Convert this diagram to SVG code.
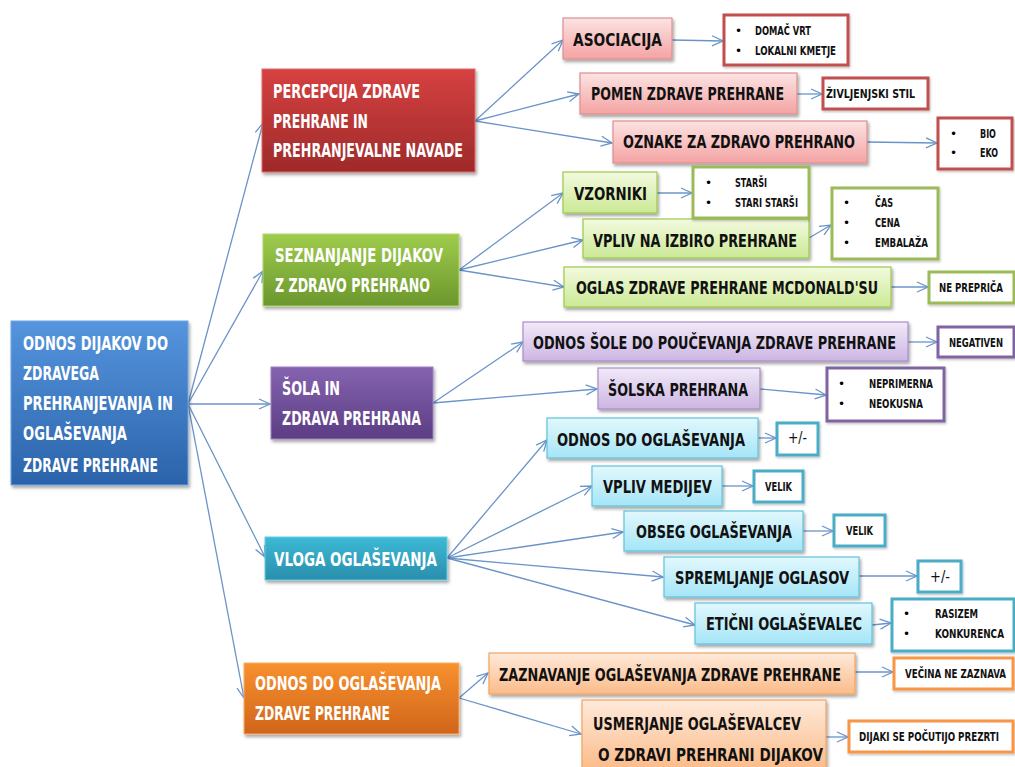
<svg xmlns="http://www.w3.org/2000/svg" width="1015" height="767" viewBox="0 0 1015 767">
<style>
  .l1 { font-family: "DejaVu Sans Condensed", "DejaVu Sans", sans-serif; font-size: 19px; font-weight: bold; fill: #ffffff; }
  .l2 { font-family: "DejaVu Sans Condensed", "DejaVu Sans", sans-serif; font-size: 18px; font-weight: bold; fill: #111111; }
  .l3 { font-family: "DejaVu Sans Condensed", "DejaVu Sans", sans-serif; font-size: 12px; font-weight: bold; fill: #111111; }
  .pm { font-family: "DejaVu Sans Condensed", "DejaVu Sans", sans-serif; font-size: 15px; fill: #111111; }
  .bul { font-family: "DejaVu Sans", sans-serif; font-size: 12px; fill: #000000; }
  .con line { stroke: #6a94c9; stroke-width: 1.3; fill: none; marker-end: url(#arr); }
  .b1 { stroke-width: 1; filter: url(#sh); }
  .b2 { stroke-width: 1.2; filter: url(#sh); }
  .b3 { fill: #ffffff; stroke-width: 3; filter: url(#sh2); }
</style>
<defs>
  <marker id="arr" markerUnits="userSpaceOnUse" markerWidth="14" markerHeight="12" refX="12" refY="6" orient="auto">
    <path d="M1,1 L12,6 L1,11" fill="none" stroke="#6a94c9" stroke-width="1.3"/>
  </marker>
  <filter id="sh" x="-10%" y="-10%" width="125%" height="135%">
    <feDropShadow dx="1.5" dy="2.5" stdDeviation="1.8" flood-color="#000" flood-opacity="0.35"/>
  </filter>
  <filter id="sh2" x="-10%" y="-10%" width="125%" height="135%">
    <feDropShadow dx="1" dy="1.5" stdDeviation="1.2" flood-color="#000" flood-opacity="0.25"/>
  </filter>
  <linearGradient id="gBlue" x1="0" y1="0" x2="0" y2="1"><stop offset="0" stop-color="#5595de"/><stop offset="1" stop-color="#2b63aa"/></linearGradient>
  <linearGradient id="gRed" x1="0" y1="0" x2="0" y2="1"><stop offset="0" stop-color="#d64141"/><stop offset="1" stop-color="#9e2a2a"/></linearGradient>
  <linearGradient id="gGreen" x1="0" y1="0" x2="0" y2="1"><stop offset="0" stop-color="#9fcc4d"/><stop offset="1" stop-color="#6b972c"/></linearGradient>
  <linearGradient id="gPurple" x1="0" y1="0" x2="0" y2="1"><stop offset="0" stop-color="#8563b0"/><stop offset="1" stop-color="#5c3d84"/></linearGradient>
  <linearGradient id="gTeal" x1="0" y1="0" x2="0" y2="1"><stop offset="0" stop-color="#3cbad6"/><stop offset="1" stop-color="#2a8eac"/></linearGradient>
  <linearGradient id="gOrange" x1="0" y1="0" x2="0" y2="1"><stop offset="0" stop-color="#f8912f"/><stop offset="1" stop-color="#d0651a"/></linearGradient>
  <linearGradient id="lRed" x1="0" y1="0" x2="0" y2="1"><stop offset="0" stop-color="#fce3e3"/><stop offset="1" stop-color="#f4a3a3"/></linearGradient>
  <linearGradient id="lGreen" x1="0" y1="0" x2="0" y2="1"><stop offset="0" stop-color="#f3fadf"/><stop offset="1" stop-color="#cbe995"/></linearGradient>
  <linearGradient id="lPurple" x1="0" y1="0" x2="0" y2="1"><stop offset="0" stop-color="#f1eaf8"/><stop offset="1" stop-color="#ccb5e3"/></linearGradient>
  <linearGradient id="lTeal" x1="0" y1="0" x2="0" y2="1"><stop offset="0" stop-color="#e2f8fd"/><stop offset="1" stop-color="#a5e5f7"/></linearGradient>
  <linearGradient id="lOrange" x1="0" y1="0" x2="0" y2="1"><stop offset="0" stop-color="#feeadb"/><stop offset="1" stop-color="#fbbb89"/></linearGradient>
</defs>
<rect width="1015" height="767" fill="#ffffff"/>

<g id="connectors" class="con">
  <line x1="188" y1="404" x2="263" y2="123"/>
  <line x1="188" y1="404" x2="263" y2="271"/>
  <line x1="188" y1="404" x2="270" y2="404"/>
  <line x1="188" y1="404" x2="265" y2="557"/>
  <line x1="188" y1="404" x2="244" y2="698"/>
  <line x1="475" y1="121" x2="563" y2="40"/>
  <line x1="475" y1="121" x2="579" y2="94"/>
  <line x1="475" y1="121" x2="612" y2="143"/>
  <line x1="672" y1="40" x2="723" y2="41"/>
  <line x1="797" y1="94" x2="822" y2="94"/>
  <line x1="867" y1="142" x2="937" y2="143"/>
  <line x1="459" y1="270" x2="563" y2="193"/>
  <line x1="459" y1="270" x2="583" y2="240"/>
  <line x1="459" y1="270" x2="564" y2="287"/>
  <line x1="657" y1="193" x2="692" y2="193"/>
  <line x1="809" y1="238" x2="831" y2="225"/>
  <line x1="891" y1="287" x2="928" y2="287"/>
  <line x1="433" y1="403" x2="523" y2="342"/>
  <line x1="433" y1="403" x2="597" y2="389"/>
  <line x1="908" y1="342" x2="937" y2="342"/>
  <line x1="760" y1="389" x2="826" y2="395"/>
  <line x1="447" y1="558" x2="547" y2="440"/>
  <line x1="447" y1="558" x2="592" y2="486"/>
  <line x1="447" y1="558" x2="623" y2="532"/>
  <line x1="447" y1="558" x2="663" y2="577"/>
  <line x1="447" y1="558" x2="695" y2="625"/>
  <line x1="758" y1="438" x2="776" y2="438"/>
  <line x1="722" y1="486" x2="753" y2="486"/>
  <line x1="803" y1="531" x2="833" y2="531"/>
  <line x1="859" y1="576" x2="917" y2="576"/>
  <line x1="872" y1="625" x2="891" y2="623"/>
  <line x1="459" y1="698" x2="488" y2="673"/>
  <line x1="459" y1="698" x2="581" y2="734"/>
  <line x1="855" y1="672" x2="893" y2="672"/>
  <line x1="826" y1="737" x2="848" y2="737"/>
</g>

<!-- Root -->
<g id="root">
  <rect class="b1" x="11" y="321" width="177" height="164" fill="url(#gBlue)" stroke="#6fa5e3"/>
  <text class="l1" x="23" y="350" textLength="145" lengthAdjust="spacingAndGlyphs">ODNOS DIJAKOV DO</text>
  <text class="l1" x="23" y="380" textLength="76" lengthAdjust="spacingAndGlyphs">ZDRAVEGA</text>
  <text class="l1" x="23" y="410" textLength="150" lengthAdjust="spacingAndGlyphs">PREHRANJEVANJA IN</text>
  <text class="l1" x="23" y="440" textLength="104" lengthAdjust="spacingAndGlyphs">OGLAŠEVANJA</text>
  <text class="l1" x="23" y="472" textLength="135" lengthAdjust="spacingAndGlyphs">ZDRAVE PREHRANE</text>
</g>

<!-- Level 1 -->
<g id="n-percepcija">
  <rect class="b1" x="262" y="69" width="213" height="103" fill="url(#gRed)" stroke="#e06a6a"/>
  <text class="l1" x="273" y="98" textLength="147" lengthAdjust="spacingAndGlyphs">PERCEPCIJA ZDRAVE</text>
  <text class="l1" x="273" y="128" textLength="95" lengthAdjust="spacingAndGlyphs">PREHRANE IN</text>
  <text class="l1" x="273" y="157" textLength="190" lengthAdjust="spacingAndGlyphs">PREHRANJEVALNE NAVADE</text>
</g>
<g id="n-seznanjanje">
  <rect class="b1" x="263" y="234" width="196" height="72" fill="url(#gGreen)" stroke="#b1d86e"/>
  <text class="l1" x="275" y="262" textLength="168" lengthAdjust="spacingAndGlyphs">SEZNANJANJE DIJAKOV</text>
  <text class="l1" x="275" y="292" textLength="155" lengthAdjust="spacingAndGlyphs">Z ZDRAVO PREHRANO</text>
</g>
<g id="n-sola">
  <rect class="b1" x="271" y="367" width="162" height="72" fill="url(#gPurple)" stroke="#9d80c4"/>
  <text class="l1" x="282" y="395" textLength="58" lengthAdjust="spacingAndGlyphs">ŠOLA IN</text>
  <text class="l1" x="282" y="425" textLength="139" lengthAdjust="spacingAndGlyphs">ZDRAVA PREHRANA</text>
</g>
<g id="n-vloga">
  <rect class="b1" x="265" y="537" width="182" height="43" fill="url(#gTeal)" stroke="#68cde3"/>
  <text class="l1" x="274" y="566" textLength="163" lengthAdjust="spacingAndGlyphs">VLOGA OGLAŠEVANJA</text>
</g>
<g id="n-odnos-ogl">
  <rect class="b1" x="244" y="663" width="215" height="71" fill="url(#gOrange)" stroke="#fbae6a"/>
  <text class="l1" x="255" y="690" textLength="186" lengthAdjust="spacingAndGlyphs">ODNOS DO OGLAŠEVANJA</text>
  <text class="l1" x="255" y="720" textLength="135" lengthAdjust="spacingAndGlyphs">ZDRAVE PREHRANE</text>
</g>

<!-- Red tier -->
<g id="n-asociacija">
  <rect class="b2" x="563" y="18" width="109" height="41" fill="url(#lRed)" stroke="#dc8f8f"/>
  <text class="l2" transform="translate(573,46) scale(0.75,1)" textLength="118.7" lengthAdjust="spacingAndGlyphs">ASOCIACIJA</text>
</g>
<g id="n-pomen">
  <rect class="b2" x="580" y="73" width="217" height="41" fill="url(#lRed)" stroke="#dc8f8f"/>
  <text class="l2" transform="translate(591,100) scale(0.75,1)" textLength="257.3" lengthAdjust="spacingAndGlyphs">POMEN ZDRAVE PREHRANE</text>
</g>
<g id="n-oznake">
  <rect class="b2" x="613" y="121" width="254" height="42" fill="url(#lRed)" stroke="#dc8f8f"/>
  <text class="l2" transform="translate(623,148) scale(0.75,1)" textLength="309.3" lengthAdjust="spacingAndGlyphs">OZNAKE ZA ZDRAVO PREHRANO</text>
</g>
<g id="n-domac">
  <rect class="b3" x="724" y="15" width="124" height="50" stroke="#c0504d"/>
  <text class="bul" x="735" y="35">•</text>
  <text class="bul" x="735" y="55">•</text>
  <text class="l3" transform="translate(755,35) scale(0.75,1)" textLength="74.7" lengthAdjust="spacingAndGlyphs">DOMAČ VRT</text>
  <text class="l3" transform="translate(755,55) scale(0.75,1)" textLength="108" lengthAdjust="spacingAndGlyphs">LOKALNI KMETJE</text>
</g>
<g id="n-zivljenjski">
  <rect class="b3" x="823" y="78" width="105" height="31" stroke="#c0504d"/>
  <text class="l3" transform="translate(826,98) scale(0.75,1)" textLength="118.7" lengthAdjust="spacingAndGlyphs">ŽIVLJENJSKI STIL</text>
</g>
<g id="n-bio">
  <rect class="b3" x="938" y="118" width="74" height="51" stroke="#c0504d"/>
  <text class="bul" x="950" y="138">•</text>
  <text class="bul" x="950" y="157">•</text>
  <text class="l3" transform="translate(980,138) scale(0.75,1)" textLength="21.3" lengthAdjust="spacingAndGlyphs">BIO</text>
  <text class="l3" transform="translate(980,157) scale(0.75,1)" textLength="24" lengthAdjust="spacingAndGlyphs">EKO</text>
</g>

<!-- Green tier -->
<g id="n-vzorniki">
  <rect class="b2" x="563" y="172" width="94" height="41" fill="url(#lGreen)" stroke="#9bc94b"/>
  <text class="l2" transform="translate(574,200) scale(0.75,1)" textLength="97.3" lengthAdjust="spacingAndGlyphs">VZORNIKI</text>
</g>
<g id="n-vpliv-izbiro">
  <rect class="b2" x="583" y="219" width="226" height="39" fill="url(#lGreen)" stroke="#9bc94b"/>
  <text class="l2" transform="translate(593,247) scale(0.75,1)" textLength="272" lengthAdjust="spacingAndGlyphs">VPLIV NA IZBIRO PREHRANE</text>
</g>
<g id="n-oglas">
  <rect class="b2" x="564" y="267" width="327" height="40" fill="url(#lGreen)" stroke="#9bc94b"/>
  <text class="l2" transform="translate(576,294) scale(0.75,1)" textLength="402.7" lengthAdjust="spacingAndGlyphs">OGLAS ZDRAVE PREHRANE MCDONALD'SU</text>
</g>
<g id="n-starsi">
  <rect class="b3" x="693" y="167" width="116" height="51" stroke="#9bbb59"/>
  <text class="bul" x="705" y="187">•</text>
  <text class="bul" x="705" y="207">•</text>
  <text class="l3" transform="translate(735,187) scale(0.75,1)" textLength="42.7" lengthAdjust="spacingAndGlyphs">STARŠI</text>
  <text class="l3" transform="translate(735,207) scale(0.75,1)" textLength="84" lengthAdjust="spacingAndGlyphs">STARI STARŠI</text>
</g>
<g id="n-cas">
  <rect class="b3" x="832" y="188" width="106" height="71" stroke="#9bbb59"/>
  <text class="bul" x="843" y="207">•</text>
  <text class="bul" x="843" y="227">•</text>
  <text class="bul" x="843" y="247">•</text>
  <text class="l3" transform="translate(875,207) scale(0.75,1)" textLength="24" lengthAdjust="spacingAndGlyphs">ČAS</text>
  <text class="l3" transform="translate(875,227) scale(0.75,1)" textLength="33.3" lengthAdjust="spacingAndGlyphs">CENA</text>
  <text class="l3" transform="translate(875,247) scale(0.75,1)" textLength="70.7" lengthAdjust="spacingAndGlyphs">EMBALAŽA</text>
</g>
<g id="n-ne-preprica">
  <rect class="b3" x="929" y="272" width="85" height="31" stroke="#9bbb59"/>
  <text class="l3" transform="translate(939,292) scale(0.75,1)" textLength="85.3" lengthAdjust="spacingAndGlyphs">NE PREPRIČA</text>
</g>

<!-- Purple tier -->
<g id="n-odnos-sole">
  <rect class="b2" x="523" y="322" width="385" height="39" fill="url(#lPurple)" stroke="#a98cc9"/>
  <text class="l2" transform="translate(533,349) scale(0.75,1)" textLength="484" lengthAdjust="spacingAndGlyphs">ODNOS ŠOLE DO POUČEVANJA ZDRAVE PREHRANE</text>
</g>
<g id="n-solska">
  <rect class="b2" x="598" y="368" width="162" height="41" fill="url(#lPurple)" stroke="#a98cc9"/>
  <text class="l2" transform="translate(608,396) scale(0.75,1)" textLength="186.7" lengthAdjust="spacingAndGlyphs">ŠOLSKA PREHRANA</text>
</g>
<g id="n-negativen">
  <rect class="b3" x="938" y="327" width="76" height="30" stroke="#8064a2"/>
  <text class="l3" transform="translate(949,347) scale(0.75,1)" textLength="72" lengthAdjust="spacingAndGlyphs">NEGATIVEN</text>
</g>
<g id="n-neprimerna">
  <rect class="b3" x="827" y="368" width="117" height="53" stroke="#8064a2"/>
  <text class="bul" x="838" y="388">•</text>
  <text class="bul" x="838" y="408">•</text>
  <text class="l3" transform="translate(869,388) scale(0.75,1)" textLength="85.3" lengthAdjust="spacingAndGlyphs">NEPRIMERNA</text>
  <text class="l3" transform="translate(869,408) scale(0.75,1)" textLength="72" lengthAdjust="spacingAndGlyphs">NEOKUSNA</text>
</g>

<!-- Teal tier -->
<g id="n-odnos-do-ogl">
  <rect class="b2" x="547" y="418" width="211" height="40" fill="url(#lTeal)" stroke="#5ec4dc"/>
  <text class="l2" transform="translate(557,446) scale(0.75,1)" textLength="250.7" lengthAdjust="spacingAndGlyphs">ODNOS DO OGLAŠEVANJA</text>
</g>
<g id="n-vpliv-medijev">
  <rect class="b2" x="592" y="466" width="130" height="40" fill="url(#lTeal)" stroke="#5ec4dc"/>
  <text class="l2" transform="translate(603,493) scale(0.75,1)" textLength="145.3" lengthAdjust="spacingAndGlyphs">VPLIV MEDIJEV</text>
</g>
<g id="n-obseg">
  <rect class="b2" x="624" y="511" width="179" height="40" fill="url(#lTeal)" stroke="#5ec4dc"/>
  <text class="l2" transform="translate(636,538) scale(0.75,1)" textLength="208" lengthAdjust="spacingAndGlyphs">OBSEG OGLAŠEVANJA</text>
</g>
<g id="n-spremljanje">
  <rect class="b2" x="664" y="557" width="195" height="40" fill="url(#lTeal)" stroke="#5ec4dc"/>
  <text class="l2" transform="translate(675,584) scale(0.75,1)" textLength="232" lengthAdjust="spacingAndGlyphs">SPREMLJANJE OGLASOV</text>
</g>
<g id="n-eticni">
  <rect class="b2" x="695" y="603" width="177" height="41" fill="url(#lTeal)" stroke="#5ec4dc"/>
  <text class="l2" transform="translate(706,630) scale(0.75,1)" textLength="208" lengthAdjust="spacingAndGlyphs">ETIČNI OGLAŠEVALEC</text>
</g>
<g id="n-pm1">
  <rect class="b3" x="777" y="423" width="41" height="32" stroke="#4bacc6"/>
  <text class="pm" x="788" y="443" textLength="19" lengthAdjust="spacingAndGlyphs">+/-</text>
</g>
<g id="n-velik1">
  <rect class="b3" x="754" y="471" width="49" height="31" stroke="#4bacc6"/>
  <text class="l3" transform="translate(765,491) scale(0.75,1)" textLength="36" lengthAdjust="spacingAndGlyphs">VELIK</text>
</g>
<g id="n-velik2">
  <rect class="b3" x="834" y="515" width="51" height="31" stroke="#4bacc6"/>
  <text class="l3" transform="translate(846,535) scale(0.75,1)" textLength="36" lengthAdjust="spacingAndGlyphs">VELIK</text>
</g>
<g id="n-pm2">
  <rect class="b3" x="918" y="561" width="43" height="31" stroke="#4bacc6"/>
  <text class="pm" x="930" y="582" textLength="20" lengthAdjust="spacingAndGlyphs">+/-</text>
</g>
<g id="n-rasizem">
  <rect class="b3" x="892" y="599" width="122" height="52" stroke="#4bacc6"/>
  <text class="bul" x="903" y="618">•</text>
  <text class="bul" x="903" y="638">•</text>
  <text class="l3" transform="translate(935,618) scale(0.75,1)" textLength="57.3" lengthAdjust="spacingAndGlyphs">RASIZEM</text>
  <text class="l3" transform="translate(935,638) scale(0.75,1)" textLength="92" lengthAdjust="spacingAndGlyphs">KONKURENCA</text>
</g>

<!-- Orange tier -->
<g id="n-zaznavanje">
  <rect class="b2" x="489" y="653" width="366" height="41" fill="url(#lOrange)" stroke="#f2a35e"/>
  <text class="l2" transform="translate(499,681) scale(0.75,1)" textLength="456" lengthAdjust="spacingAndGlyphs">ZAZNAVANJE OGLAŠEVANJA ZDRAVE PREHRANE</text>
</g>
<g id="n-usmerjanje">
  <rect class="b2" x="582" y="700" width="244" height="70" fill="url(#lOrange)" stroke="#f2a35e"/>
  <text class="l2" transform="translate(593,730) scale(0.75,1)" textLength="277.3" lengthAdjust="spacingAndGlyphs">USMERJANJE OGLAŠEVALCEV</text>
  <text class="l2" transform="translate(598,761) scale(0.75,1)" textLength="300" lengthAdjust="spacingAndGlyphs">O ZDRAVI PREHRANI DIJAKOV</text>
</g>
<g id="n-vecina">
  <rect class="b3" x="894" y="658" width="119" height="31" stroke="#f79646"/>
  <text class="l3" transform="translate(905,678) scale(0.75,1)" textLength="134.7" lengthAdjust="spacingAndGlyphs">VEČINA NE ZAZNAVA</text>
</g>
<g id="n-dijaki">
  <rect class="b3" x="849" y="721" width="164" height="31" stroke="#f79646"/>
  <text class="l3" transform="translate(859,741) scale(0.75,1)" textLength="186.7" lengthAdjust="spacingAndGlyphs">DIJAKI SE POČUTIJO PREZRTI</text>
</g>
</svg>
